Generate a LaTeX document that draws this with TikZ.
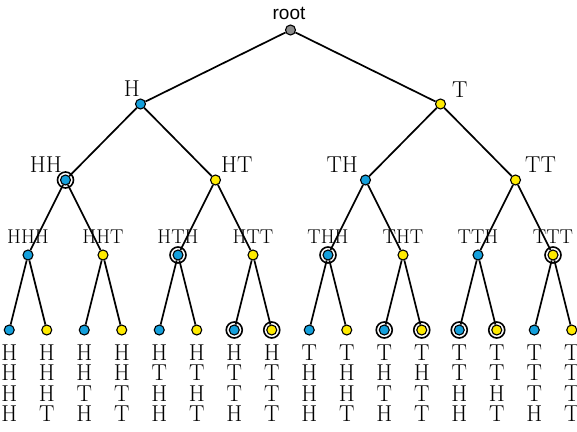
\documentclass[tikz,border=0pt]{standalone}
\usepackage{fontspec}
\newfontfamily\rootfont{Liberation Sans}
\definecolor{hblue}{RGB}{20,160,220}
\definecolor{tyel}{RGB}{255,235,0}
\definecolor{rgray}{RGB}{140,140,140}
\tikzset{
  dot/.style={circle, draw=black, line width=1.1pt, minimum size=10pt, inner sep=0pt},
  hd/.style={dot, fill=hblue},
  td/.style={dot, fill=tyel},
  gd/.style={dot, fill=rgray},
  ringc/.style={circle, draw=black, line width=1.6pt, minimum size=16pt, inner sep=0pt},
  edge/.style={line width=1.7pt},
  biglab/.style={inner sep=0pt, font=\fontsize{23}{23}\selectfont},
  midlab/.style={inner sep=0pt, font=\fontsize{20}{20}\selectfont},
  leaflab/.style={inner sep=0pt, anchor=base, font=\fontsize{23}{23}\selectfont},
}
\begin{document}
\begin{tikzpicture}[x=1pt, y=-1pt]
\useasboundingbox (0,0) rectangle (577,431);
% nodes
\node[gd] (n) at (290.5,30) {};
\node[hd] (nH) at (140.5,104) {};
\node[td] (nT) at (440.5,104) {};
\foreach \nm/\x/\st in {HH/65.5/hd, HT/215.5/td, TH/365.5/hd, TT/515.5/td}
  \node[\st] (n\nm) at (\x,180) {};
\foreach \nm/\x/\st in {HHH/28/hd, HHT/103/td, HTH/178/hd, HTT/253/td, THH/328/hd, THT/403/td, TTH/478/hd, TTT/553/td}
  \node[\st] (n\nm) at (\x,255) {};
\foreach \a/\b/\c/\d [count=\k from 0] in {H/H/H/H, H/H/H/T, H/H/T/H, H/H/T/T, H/T/H/H, H/T/H/T, H/T/T/H, H/T/T/T, T/H/H/H, T/H/H/T, T/H/T/H, T/H/T/T, T/T/H/H, T/T/H/T, T/T/T/H, T/T/T/T} {
  \pgfmathsetmacro{\xx}{9.25+37.5*\k}
  \if\d H\def\st{hd}\else\def\st{td}\fi
  \node[\st] (n\a\b\c\d) at (\xx,330) {};
  \node[leaflab] (la\a\b\c\d) at (\xx,360) {\a};
  \node[leaflab] (lb\a\b\c\d) at (\xx,380.5) {\b};
  \node[leaflab] (lc\a\b\c\d) at (\xx,401) {\c};
  \node[leaflab] (ld\a\b\c\d) at (\xx,421.5) {\d};
}
% rings
\foreach \nm in {HH, HTH, THH, TTT, HTTH, HTTT, THTH, THTT, TTHH, TTHT}
  \node[ringc] (r\nm) at (n\nm) {};
% edges
\draw[edge] (n) -- (nH);
\draw[edge] (n) -- (nT);
\foreach \s in {H,T,HH,HT,TH,TT,HHH,HHT,HTH,HTT,THH,THT,TTH,TTT} {
  \draw[edge] (n\s) -- (n\s H);
  \draw[edge] (n\s) -- (n\s T);
}
% labels
\node[inner sep=0pt, anchor=base, font=\rootfont\fontsize{19}{19}\selectfont] (lroot) at (289,19) {root};
\node[biglab, anchor=base east] (lH) at (140,96) {H};
\node[biglab, anchor=base west] (lT) at (452,97) {T};
\node[biglab, anchor=base east] (lHH) at (62,172) {HH};
\node[biglab, anchor=base west] (lHT) at (221,172) {HT};
\node[biglab, anchor=base east] (lTH) at (358,172) {TH};
\node[biglab, anchor=base west] (lTT) at (525,172) {TT};
\foreach \nm in {HHH,HHT,HTH,HTT,THH,THT,TTH,TTT}
  \node[midlab, anchor=base] (l\nm) at ([yshift=12pt]n\nm.center) {\nm};
\end{tikzpicture}
\end{document}
